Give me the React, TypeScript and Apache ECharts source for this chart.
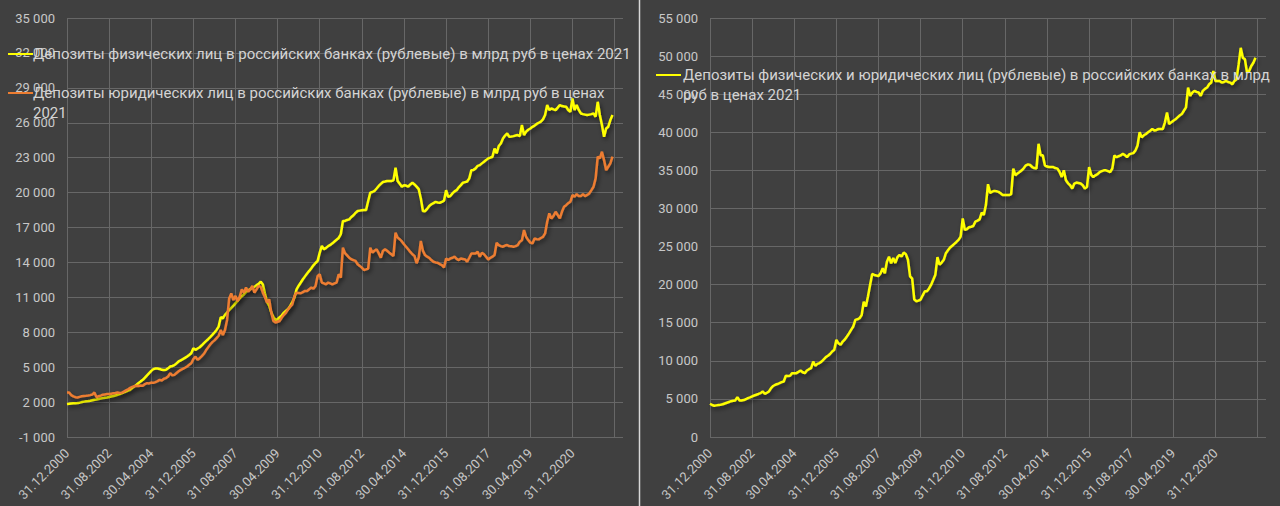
import React, { useEffect, useRef } from "react";
import * as echarts from "echarts";

// ---- data (monthly, end of month, from 31.12.2000) ----
const SERIES_NAMES = [
  "Депозиты физических лиц в российских банках (рублевые) в млрд руб в ценах 2021",
  "Депозиты юридических лиц в российских банках (рублевые) в млрд руб в ценах 2021",
  "Депозиты физических и юридических лиц (рублевые) в российских банках в млрд руб в ценах 2021",
];

const PHYS = [
  1830, 1850, 1880, 1900, 1910, 1920, 1950, 2000, 2040, 2070,
  2090, 2120, 2160, 2200, 2220, 2260, 2300, 2340, 2380, 2400,
  2430, 2480, 2520, 2570, 2620, 2690, 2760, 2830, 2900, 2980,
  3060, 3200, 3350, 3490, 3640, 3780, 3910, 4100, 4300, 4490,
  4680, 4830, 4880, 4890, 4850, 4770, 4760, 4770, 4900, 5060,
  5100, 5170, 5330, 5490, 5590, 5690, 5800, 5910, 6050, 6200,
  6630, 6490, 6600, 6710, 6880, 7060, 7230, 7400, 7580, 7770,
  7980, 8200, 8490, 9290, 9200, 9490, 9700, 9910, 10100, 10290,
  10500, 10700, 10900, 11100, 11250, 11450, 11600, 11700, 11850, 11900,
  12050, 12150, 12350, 12100, 11300, 10600, 10260, 9700, 9300, 9060,
  9120, 9300, 9450, 9690, 9850, 10000, 10260, 10600, 10980, 11690,
  12000, 12270, 12550, 12800, 13050, 13270, 13500, 13750, 13950, 14130,
  14840, 15420, 15130, 15250, 15400, 15500, 15640, 15800, 15950, 16100,
  16420, 17560, 17560, 17650, 17700, 17900, 18050, 18250, 18420, 18450,
  18480, 18500, 18510, 19280, 20000, 20050, 20140, 20350, 20570, 20750,
  20910, 20950, 21000, 21000, 21000, 21050, 22140, 21000, 20750, 20510,
  20630, 20600, 20510, 20700, 20850, 20700, 20510, 20300, 19500, 18420,
  18400, 18600, 18850, 19000, 19100, 19200, 19150, 19130, 19200, 19300,
  20210, 19640, 19700, 19930, 20100, 20210, 20450, 20640, 20850, 20900,
  20950, 21220, 21930, 21950, 22080, 22300, 22360, 22510, 22650, 22790,
  22940, 23000, 23080, 23790, 23370, 24000, 24220, 24650, 24900, 25080,
  24800, 24820, 24850, 24900, 24940, 24850, 25800, 24940, 25230, 25400,
  25510, 25650, 25750, 25900, 26000, 26100, 26290, 26660, 27520, 27090,
  27230, 27150, 27090, 27300, 27520, 27430, 27400, 27370, 27100, 26950,
  28090, 27090, 27520, 27100, 26800, 26740, 26700, 26660, 26700, 26740,
  26800, 26520, 27800, 26660, 25800, 24800, 25510, 25660, 26230, 26660,
];

const JUR = [
  2830, 2830, 2600, 2490, 2420, 2400, 2450, 2500, 2530, 2540,
  2560, 2600, 2650, 2830, 2430, 2500, 2560, 2630, 2660, 2690,
  2690, 2720, 2750, 2780, 2830, 2790, 2800, 2900, 3000, 3100,
  3220, 3300, 3370, 3400, 3380, 3420, 3400, 3550, 3630, 3600,
  3680, 3650, 3720, 3800, 3910, 3850, 4000, 4060, 4200, 4490,
  4300, 4340, 4500, 4650, 4770, 4850, 4950, 5060, 5200, 5340,
  5700, 5910, 5630, 5770, 5950, 6150, 6450, 6700, 6950, 7150,
  7300, 7500, 7700, 8200, 7770, 8200, 9060, 10900, 11340, 10770,
  11120, 10690, 11060, 11690, 11400, 11840, 11500, 11690, 11980, 11400,
  11690, 11980, 11900, 11400, 11000, 10550, 10830, 9690, 8970, 8830,
  8900, 8970, 9260, 9500, 9690, 9980, 10200, 10400, 11120, 11400,
  11380, 11350, 11450, 11550, 11550, 11700, 11840, 11750, 11980, 12840,
  12980, 12270, 12200, 12120, 12270, 12200, 12120, 12200, 12270, 12980,
  12700, 15270, 14800, 14610, 14400, 14270, 14200, 14130, 13840, 13700,
  13550, 13350, 13400, 13470, 15270, 14840, 15000, 15130, 14800, 14410,
  14990, 15130, 15000, 14840, 14700, 14560, 16560, 16130, 15990, 15800,
  15560, 15350, 15130, 14900, 14700, 14560, 13930, 14410, 15840, 15000,
  14630, 14490, 14400, 14200, 14060, 14000, 13970, 13850, 13770, 13570,
  14340, 14200, 14340, 14400, 14490, 14300, 14200, 14340, 14300, 14260,
  14060, 14400, 14770, 14770, 14770, 14920, 14490, 14830, 14700, 14490,
  14260, 14400, 14490, 14630, 15690, 15490, 15400, 15350, 15450, 15490,
  15400, 15380, 15350, 15400, 15490, 15780, 15900, 16780, 16200, 15920,
  15700, 15630, 16060, 16000, 15980, 16100, 16200, 16490, 17490, 18210,
  17780, 18000, 18350, 18070, 17780, 18350, 18780, 18920, 19100, 19210,
  19790, 19640, 19870, 19700, 19700, 19870, 19700, 19800, 19930, 20210,
  20500, 21220, 23080, 22940, 23510, 22790, 21930, 22220, 22510, 23080,
];

const TOTAL = [
  4370, 4200, 4100, 4150, 4200, 4240, 4300, 4400, 4500, 4600,
  4700, 4750, 4800, 5240, 4800, 4800, 4850, 4950, 5110, 5200,
  5330, 5450, 5550, 5650, 5760, 5980, 5680, 5800, 5980, 6420,
  6700, 6860, 6950, 7070, 7200, 7290, 8040, 8000, 8040, 8380,
  8380, 8380, 8550, 8730, 8500, 8380, 8730, 8900, 9040, 9910,
  9350, 9600, 9700, 9910, 10200, 10480, 10660, 10900, 11220, 11440,
  12750, 12300, 12100, 12530, 12800, 13190, 13600, 14060, 14500, 15370,
  15450, 15590, 16000, 17770, 17120, 18430, 19960, 21400, 21270, 21200,
  21140, 21500, 22140, 21490, 23000, 23670, 22800, 23500, 22850, 23600,
  23900, 23700, 24220, 24000, 23260, 21090, 20800, 18040, 17830, 17900,
  18040, 18600, 19130, 19130, 19500, 20000, 20650, 21310, 23610, 22610,
  22900, 23260, 24130, 24500, 24870, 25100, 25350, 25600, 25870, 26310,
  28700, 27180, 27300, 27530, 27600, 27700, 28270, 28400, 28570, 29440,
  29140, 30440, 33180, 32050, 32200, 32310, 32250, 32180, 32000, 31750,
  31750, 31750, 31750, 31880, 35230, 34360, 34600, 34790, 35010, 35300,
  35660, 35790, 35700, 35440, 35300, 35230, 38490, 36970, 36970, 35660,
  35500, 35440, 35440, 35440, 35300, 35230, 34790, 34140, 35010, 33700,
  33300, 33050, 32620, 33270, 33400, 33350, 33270, 33040, 32610, 32830,
  35430, 34400, 34130, 34350, 34500, 34780, 34900, 35000, 35000, 34900,
  34780, 35220, 36960, 36740, 36850, 36960, 37170, 37000, 36740, 37090,
  37200, 37260, 37610, 38260, 40000, 39350, 39600, 39780, 40000, 40200,
  40430, 40220, 40300, 40430, 40430, 40430, 41300, 42610, 41090, 41300,
  41520, 41700, 41960, 42200, 42390, 42830, 43260, 45870, 44780, 45200,
  45440, 45300, 45220, 44780, 45440, 45700, 45870, 46300, 46520, 48040,
  46740, 46740, 46740, 46520, 46600, 46740, 46600, 46520, 46300, 46740,
  46960, 48910, 51090, 49780, 49570, 47830, 48040, 48700, 49130, 49780,
];

// month-end date labels, 31.12.2000 … 31.07.2022, plus empty slots at the end of the axis
function monthEndLabel(i: number): string {
  const total = 2000 * 12 + 11 + i;
  const y = Math.floor(total / 12);
  const m = total % 12;
  const d = new Date(y, m + 1, 0).getDate();
  return `${String(d).padStart(2, "0")}.${String(m + 1).padStart(2, "0")}.${y}`;
}
const DATES = PHYS.map((_, i) => monthEndLabel(i));
const AXIS_PAD = ["", " ", "  ", "   ", "    "];
const CATEGORIES = [...DATES, ...AXIS_PAD];

const LEFT_TICKS = { min: -1000, max: 35000, interval: 3000 };
const RIGHT_TICKS = { min: 0, max: 55000, interval: 5000 };

const YELLOW = "#ffff00";
const ORANGE = "#ed7d31";
const BG = "#404040";
const GRID = "#676767";
const AXIS_TEXT = "#c8c8c8";
const LEGEND_TEXT = "#d4d4d4";
const FONT = "Roboto, 'Open Sans', sans-serif";

function fmt(v: number): string {
  const s = String(Math.abs(v)).replace(/\B(?=(\d{3})+(?!\d))/g, " ");
  return (v < 0 ? "-" : "") + s;
}

export default function App() {
  const ref = useRef<HTMLDivElement>(null);
  useEffect(() => {
    if (!ref.current) return;
    const chart = echarts.init(ref.current, null, { renderer: "svg" });

    const xAxisBase = (gridIndex: number) => ({
      type: "category",
      gridIndex,
      data: CATEGORIES,
      boundaryGap: false,
      axisLine: { show: false },
      axisTick: { show: false },
      axisLabel: {
        interval: 19,
        rotate: 45,
        margin: 14,
        color: AXIS_TEXT,
        fontSize: 13,
        fontFamily: FONT,
      },
      splitLine: { show: true, interval: 19, lineStyle: { color: GRID, width: 1 } },
    });
    const yAxisBase = (gridIndex: number, t: any) => ({
      type: "value",
      gridIndex,
      min: t.min,
      max: t.max,
      interval: t.interval,
      axisLine: { show: false },
      axisTick: { show: false },
      axisLabel: {
        margin: 12,
        color: AXIS_TEXT,
        fontSize: 13,
        fontFamily: FONT,
        formatter: (v: number) => fmt(v),
      },
      splitLine: { show: true, lineStyle: { color: GRID, width: 1 } },
    });
    const shadow = {
      shadowColor: "rgba(0,0,0,0.55)",
      shadowBlur: 4,
      shadowOffsetX: 1.5,
      shadowOffsetY: 2.5,
    };
    const lineSeries = (name: string, data: number[], color: string, axis: number) => ({
      type: "line",
      name,
      data,
      xAxisIndex: axis,
      yAxisIndex: axis,
      showSymbol: false,
      symbol: "none",
      lineStyle: { color, width: 2.5, ...shadow },
      itemStyle: { color },
    });

    const legendText = (x: number, y: number, text: string) => ({
      type: "text",
      z: 100,
      style: {
        x,
        y,
        text,
        fill: LEGEND_TEXT,
        fontSize: 15,
        fontFamily: FONT,
        lineHeight: 20,
        verticalAlign: "top",
      },
    });
    const legendLine = (x1: number, x2: number, y: number, color: string) => ({
      type: "line",
      z: 100,
      shape: { x1, y1: y, x2, y2: y },
      style: { stroke: color, lineWidth: 2 },
    });

    chart.setOption({
      animation: false,
      backgroundColor: BG,
      grid: [
        { left: 67, top: 18, width: 556, height: 419, outerBoundsMode: "none" },
        { left: 710, top: 18, width: 556, height: 419, outerBoundsMode: "none" },
      ],
      xAxis: [xAxisBase(0), xAxisBase(1)],
      yAxis: [yAxisBase(0, LEFT_TICKS), yAxisBase(1, RIGHT_TICKS)],
      series: [
        lineSeries(SERIES_NAMES[0], PHYS, YELLOW, 0),
        lineSeries(SERIES_NAMES[1], JUR, ORANGE, 0),
        lineSeries(SERIES_NAMES[2], TOTAL, YELLOW, 1),
      ],
      graphic: [
        {
          type: "line",
          shape: { x1: 639.5, y1: 0, x2: 639.5, y2: 506 },
          style: { stroke: "#d8d8d8", lineWidth: 1.5 },
        },
        legendLine(8, 33, 54, YELLOW),
        legendText(33, 44, SERIES_NAMES[0]),
        legendLine(8, 33, 93, ORANGE),
        legendText(
          33,
          83,
          "Депозиты юридических лиц в российских банках (рублевые) в млрд руб в ценах\n2021"
        ),
        legendLine(656, 681, 75, YELLOW),
        legendText(
          683,
          65,
          "Депозиты физических и юридических лиц (рублевые) в российских банках в млрд\nруб в ценах 2021"
        ),
      ],
    });
    return () => chart.dispose();
  }, []);

  return (
    <div
      ref={ref}
      style={{ position: "fixed", left: 0, top: 0, width: 1280, height: 506 }}
    />
  );
}
